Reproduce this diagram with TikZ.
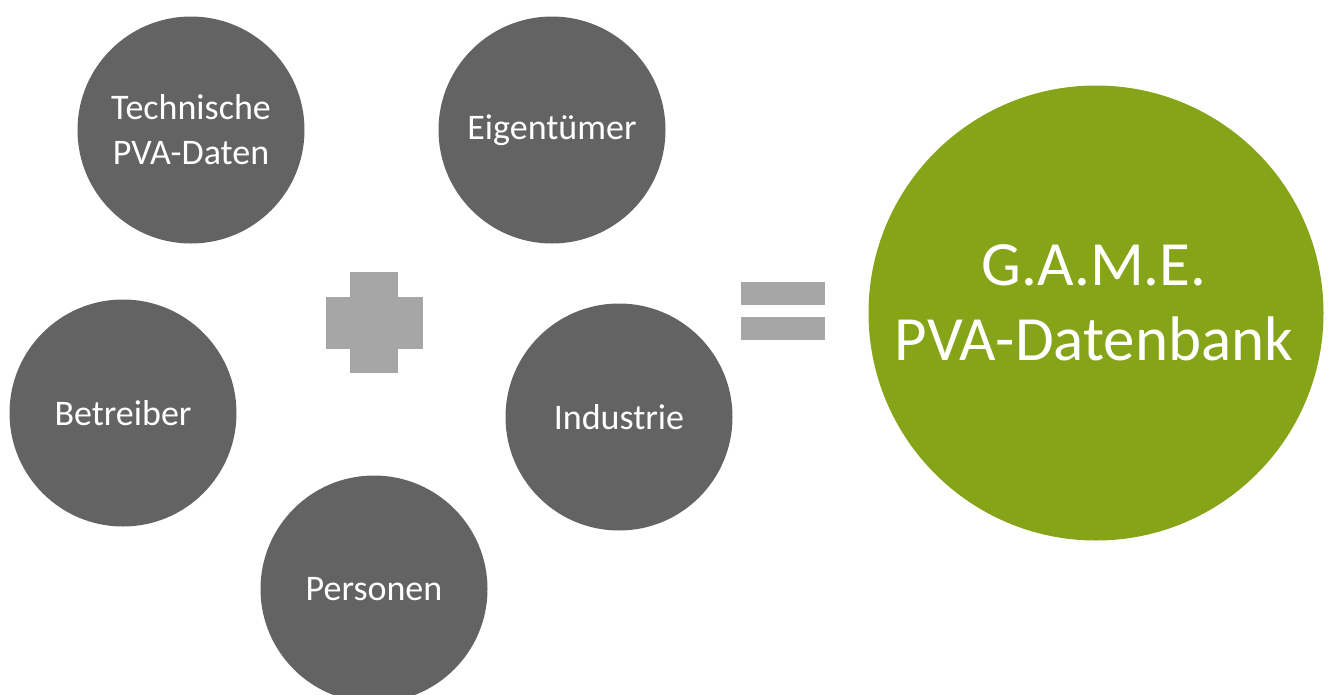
\documentclass[tikz,border=0pt]{standalone}
\usepackage{fontspec}
\setmainfont{Carlito}
\usepackage{tikz}
\definecolor{darkgrey}{HTML}{636363}
\definecolor{lightgrey}{HTML}{A6A6A6}
\definecolor{gamegreen}{HTML}{86A418}
\tikzstyle{topic}=[circle, fill=darkgrey, text=white, minimum size=227pt, inner sep=0pt, align=center, font=\fontsize{36}{45}\selectfont]
\tikzstyle{result}=[circle, fill=gamegreen, minimum size=455pt, inner sep=0pt]
\tikzstyle{resulttext}=[text=white, align=center, font=\fontsize{63}{75}\selectfont]
\tikzstyle{bar}=[fill=lightgrey, inner sep=0pt]

\begin{document}
\begin{tikzpicture}[x=1pt,y=-1pt]
\clip (0,0) rectangle (1329,694);
\useasboundingbox (0,0) rectangle (1329,694);
% topics
\node [topic] (tech) at (191,130) {Technische\\PVA-Daten};
\node [topic] (owner) at (552,130) {Eigentümer};
\node [topic] (operator) at (123,413) {Betreiber};
\node [topic] (industry) at (619,417) {Industrie};
\node [topic] (persons) at (374,589) {Personen};
% plus
\node [bar, minimum width=48pt, minimum height=101pt] (plusv) at (374,322.5) {};
\node [bar, minimum width=97pt, minimum height=52pt] (plush) at (374,323) {};
% equals
\node [bar, minimum width=84pt, minimum height=23pt] (eqtop) at (783,293.5) {};
\node [bar, minimum width=84pt, minimum height=23pt] (eqbot) at (783,328.5) {};
% result
\node [result] (game) at (1096,313) {};
\node [resulttext] (gametitle) at (1094,303) {G.A.M.E.\\PVA-Datenbank};
\end{tikzpicture}
\end{document}
